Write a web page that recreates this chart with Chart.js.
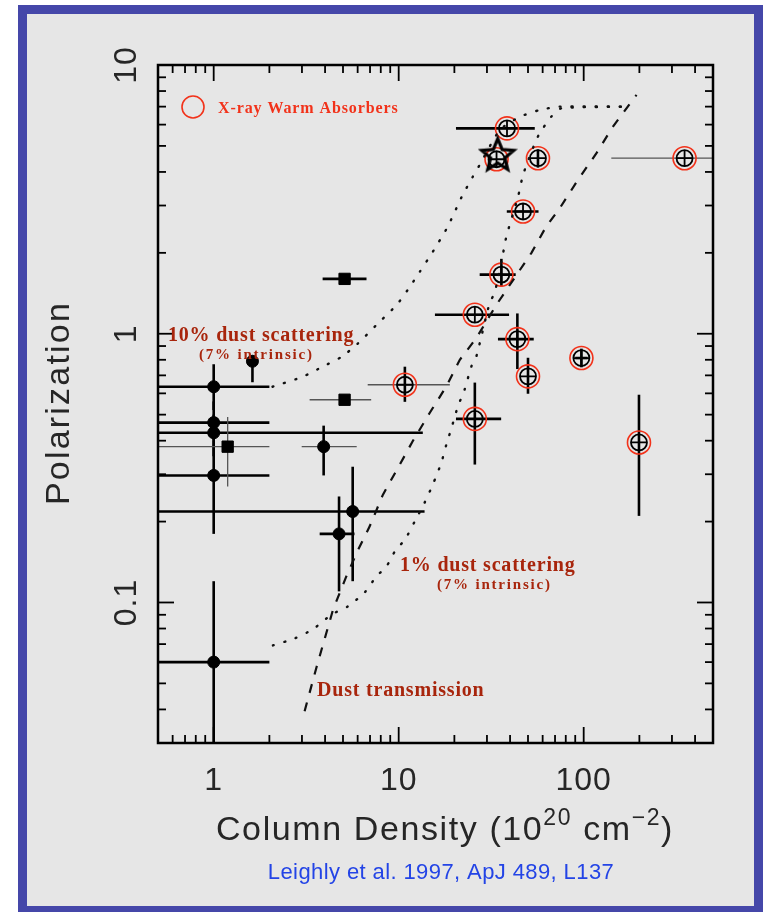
<!DOCTYPE html>
<html>
<head>
<meta charset="utf-8">
<script src="https://cdn.jsdelivr.net/npm/chart.js@4.4.0/dist/chart.umd.min.js"></script>
<style>
html, body { margin: 0; padding: 0; background: #fff; }
canvas { display: block; }
</style>
</head>
<body>
<canvas id="polChart" width="774" height="912"></canvas>
<script>
// sources without warm absorbers: column density (1e20 cm^-2), polarization (%)
var obj_nh     = [1, 1, 1, 1, 1, 1.19, 1.62, 5.1, 5.1, 3.93, 4.76, 5.64];
var obj_pol    = [0.635, 0.467, 0.428, 0.297, 0.06, 0.38, 0.79, 1.6, 0.568, 0.38, 0.18, 0.218];
var obj_nh_lo  = [0.4, 0.4, 0.4, 0.4, 0.4, 0.4, null, 3.88, 3.3, 2.99, 3.74, 0.4];
var obj_nh_hi  = [2.0, 2.0, 13.5, 2.0, 2.0, 2.0, null, 6.7, 7.1, 5.93, 5.77, 13.8];
var obj_pol_lo = [0.52, 0.40, 0.35, 0.18, 0.02, 0.27, 0.66, null, null, 0.297, 0.110, 0.12];
var obj_pol_hi = [0.77, 0.56, 0.50, 0.40, 0.12, 0.49, 0.83, null, null, 0.455, 0.248, 0.32];

// X-ray warm absorbers
var wa_nh      = [10.8, 25.8, 25.8, 35.9, 43.8, 50, 97.2, 199, 38.5, 33.8, 56.6, 351, 47];
var wa_pol     = [0.646, 0.482, 1.177, 1.66, 0.955, 0.694, 0.812, 0.394, 5.81, 4.46, 4.5, 4.5, 2.85];
var wa_nh_lo   = [6.8, 20.4, 15.7, 27.4, 34.4, null, 90, null, 20.4, null, null, 141, 38.4];
var wa_nh_hi   = [18.9, 35.8, 39.5, 42.9, 53.7, null, 105, null, 54.4, null, null, 600, 57];
var wa_pol_lo  = [0.558, 0.326, null, 1.5, 0.739, 0.598, 0.75, 0.21, null, null, 4.15, null, null];
var wa_pol_hi  = [0.754, 0.658, null, 1.9, 1.19, 0.814, 0.88, 0.593, null, null, 4.85, null, null];

var star_nh  = [34.3];
var star_pol = [4.64];

// model curves
var dust10_nh  = [2.08, 3.03, 3.88, 4.92, 6.0, 7.89, 9.75, 11.2, 13.0, 15.3, 18.4, 21.9, 25.1, 27.4, 35.2, 45.1, 57.8, 74.2, 171];
var dust10_pol = [0.635, 0.692, 0.754, 0.821, 0.918, 1.108, 1.28, 1.458, 1.70, 2.02, 2.50, 3.23, 3.83, 4.25, 5.73, 6.41, 6.80, 7.0, 7.0];
var dust1_nh   = [2.09, 2.74, 3.43, 4.34, 5.30, 6.55, 7.57, 8.58, 9.64, 10.8, 12.2, 13.8, 15.3, 17.0, 18.1, 19.3, 20.9, 22.7, 24.7, 26.3, 31.0, 33.0, 36.0, 38.2, 44.2, 47.0, 54.4, 57.8, 66.9, 75.7, 171];
var dust1_pol  = [0.0692, 0.0735, 0.0794, 0.0902, 0.0966, 0.109, 0.125, 0.136, 0.157, 0.171, 0.2, 0.235, 0.275, 0.331, 0.387, 0.446, 0.537, 0.619, 0.755, 0.824, 1.30, 1.42, 1.86, 2.30, 3.24, 3.90, 5.11, 5.57, 6.43, 6.90, 7.0];
var trans_nh   = [3.10, 3.59, 4.42, 5.21, 6.03, 6.97, 8.22, 9.91, 11.9, 14.7, 18.1, 21.4, 26.3, 33.7, 52.2, 62.8, 74.2, 93.2, 117, 144, 193];
var trans_pol  = [0.0394, 0.0572, 0.0942, 0.125, 0.157, 0.192, 0.252, 0.317, 0.398, 0.507, 0.637, 0.80, 0.964, 1.28, 2.0, 2.51, 2.93, 3.74, 4.69, 5.90, 7.74];

var x_tick_vals = [1, 10, 100];
var x_tick_text = ['1', '10', '100'];
var y_tick_vals = [0.1, 1, 10];
var y_tick_text = ['0.1', '1', '10'];

// drawing style bits
var square_idx = [5, 7, 8];
var thin_x = [5, 8, 9];
var thin_y = [5];
var wa_thin_x = [0, 11];
var dark_red = '#a8250c';
var red = '#f2321a';
var ink = '#262626';

function pts(xs, ys) {
    var out = [];
    for (var i = 0; i < xs.length; i++) out.push({x: xs[i], y: ys[i]});
    return out;
}

// open star used for the one special source
var star_img = document.createElement('canvas');
star_img.width = 40;
star_img.height = 40;
(function () {
    var s = star_img.getContext('2d');
    s.beginPath();
    for (var k = 0; k < 10; k++) {
        var r = (k % 2 == 0) ? 17 : 7.5;
        var a = -Math.PI / 2 + k * Math.PI / 5;
        s.lineTo(20 + r * Math.cos(a), 21 + r * Math.sin(a));
    }
    s.closePath();
    s.lineWidth = 3.2;
    s.strokeStyle = '#000';
    s.stroke();
})();

var page_bg = {
    id: 'page_bg',
    beforeDraw: function (chart) {
        var c = chart.ctx;
        c.save();
        c.fillStyle = '#ffffff';
        c.fillRect(0, 0, chart.width, chart.height);
        c.fillStyle = '#4547a9';
        c.fillRect(18, 5, 745, 912);
        c.fillStyle = '#e6e6e6';
        c.fillRect(27, 14, 727, 892);
        c.restore();
    }
};

function bar(c, x1, y1, x2, y2) {
    c.beginPath();
    c.moveTo(x1, y1);
    c.lineTo(x2, y2);
    c.stroke();
}

var error_bars = {
    id: 'error_bars',
    beforeDatasetsDraw: function (chart) {
        var c = chart.ctx, xs = chart.scales.x, ys = chart.scales.y, a = chart.chartArea;
        c.save();
        c.beginPath();
        c.rect(a.left, a.top, a.right - a.left, a.bottom - a.top);
        c.clip();
        function draw_set(nx, py, xlo, xhi, ylo, yhi, tx, ty) {
            for (var i = 0; i < nx.length; i++) {
                var px = xs.getPixelForValue(nx[i]), pp = ys.getPixelForValue(py[i]);
                if (xlo[i] != null) {
                    var thin = tx.indexOf(i) >= 0;
                    c.lineWidth = thin ? 1.3 : 2.6;
                    c.strokeStyle = thin ? '#555' : '#000';
                    bar(c, xs.getPixelForValue(xlo[i]), pp, xs.getPixelForValue(xhi[i]), pp);
                }
                if (ylo[i] != null) {
                    var thin2 = ty.indexOf(i) >= 0;
                    c.lineWidth = thin2 ? 1.3 : 2.6;
                    c.strokeStyle = thin2 ? '#555' : '#000';
                    bar(c, px, ys.getPixelForValue(ylo[i]), px, ys.getPixelForValue(yhi[i]));
                }
            }
        }
        draw_set(obj_nh, obj_pol, obj_nh_lo, obj_nh_hi, obj_pol_lo, obj_pol_hi, thin_x, thin_y);
        draw_set(wa_nh, wa_pol, wa_nh_lo, wa_nh_hi, wa_pol_lo, wa_pol_hi, wa_thin_x, []);
        c.restore();
    }
};

var frame_text = {
    id: 'frame_text',
    afterDraw: function (chart) {
        var c = chart.ctx, xs = chart.scales.x, ys = chart.scales.y, a = chart.chartArea;
        c.save();
        c.strokeStyle = '#000';
        c.lineWidth = 2.5;
        c.strokeRect(a.left, a.top, a.right - a.left, a.bottom - a.top);

        // ticks on all four sides
        c.lineWidth = 1.8;
        var d, m, v, p, len;
        for (d = 0.1; d < 1000; d *= 10) {
            for (m = 1; m < 10; m++) {
                v = d * m;
                if (v <= 0.5 || v >= 500) continue;
                p = xs.getPixelForValue(v);
                len = (m == 1) ? 16 : 8;
                bar(c, p, a.bottom, p, a.bottom - len);
                bar(c, p, a.top, p, a.top + len);
            }
        }
        for (d = 0.01; d < 10; d *= 10) {
            for (m = 1; m < 10; m++) {
                v = d * m;
                if (v <= 0.03 || v >= 10) continue;
                p = ys.getPixelForValue(v);
                len = (m == 1) ? 16 : 8;
                bar(c, a.left, p, a.left + len, p);
                bar(c, a.right, p, a.right - len, p);
            }
        }

        // tick labels
        c.fillStyle = ink;
        c.font = '32px "Liberation Sans"';
        c.letterSpacing = '1px';
        c.textAlign = 'center';
        c.textBaseline = 'alphabetic';
        for (var i = 0; i < x_tick_vals.length; i++) {
            c.fillText(x_tick_text[i], xs.getPixelForValue(x_tick_vals[i]), 790);
        }
        for (i = 0; i < y_tick_vals.length; i++) {
            c.save();
            c.translate(136, ys.getPixelForValue(y_tick_vals[i]));
            c.rotate(-Math.PI / 2);
            c.fillText(y_tick_text[i], 0, 0);
            c.restore();
        }

        // axis titles
        c.save();
        c.translate(69, 403);
        c.rotate(-Math.PI / 2);
        c.font = '34px "Liberation Sans"';
        c.letterSpacing = '2.2px';
        c.fillText('Polarization', 0, 0);
        c.restore();

        var parts = [['Column Density (10', 34, 0], ['20', 23, -15], [' cm', 34, 0], ['\u22122', 23, -15], [')', 34, 0]];
        var total = 0, k;
        c.textAlign = 'left';
        c.letterSpacing = '1.6px';
        for (k = 0; k < parts.length; k++) {
            c.font = parts[k][1] + 'px "Liberation Sans"';
            total += c.measureText(parts[k][0]).width;
        }
        var tx = 445 - total / 2;
        for (k = 0; k < parts.length; k++) {
            c.font = parts[k][1] + 'px "Liberation Sans"';
            c.fillText(parts[k][0], tx, 840 + parts[k][2]);
            tx += c.measureText(parts[k][0]).width;
        }

        // model annotations
        c.fillStyle = dark_red;
        c.textAlign = 'left';
        c.font = 'bold 20px "Liberation Serif"';
        c.letterSpacing = '0.8px';
        c.fillText('10% dust scattering', 168, 341);
        c.fillText('1% dust scattering', 400, 571);
        c.fillText('Dust transmission', 317, 696);
        c.font = 'bold 15px "Liberation Serif"';
        c.letterSpacing = '1.8px';
        c.fillText('(7% intrinsic)', 199, 359);
        c.fillText('(7% intrinsic)', 437, 589);

        // legend
        c.strokeStyle = red;
        c.lineWidth = 1.6;
        c.beginPath();
        c.arc(193, 107, 11, 0, 2 * Math.PI);
        c.stroke();
        c.fillStyle = red;
        c.font = 'bold 16px "Liberation Serif"';
        c.letterSpacing = '0.9px';
        c.fillText('X-ray Warm Absorbers', 218, 113);

        // reference
        c.fillStyle = '#2344e6';
        c.font = '22px "Liberation Sans"';
        c.letterSpacing = '0.4px';
        c.textAlign = 'center';
        c.fillText('Leighly et al. 1997, ApJ 489, L137', 441, 879);
        c.restore();
    }
};

var ctx = document.getElementById('polChart').getContext('2d');
var polChart = new Chart(ctx, {
    type: 'scatter',
    data: {
        datasets: [{
            data: pts(dust10_nh, dust10_pol),
            showLine: true, pointRadius: 0, borderColor: '#111', borderWidth: 2.4,
            borderDash: [1, 11], borderCapStyle: 'round', tension: 0.2
        }, {
            data: pts(dust1_nh, dust1_pol),
            showLine: true, pointRadius: 0, borderColor: '#111', borderWidth: 2.4,
            borderDash: [1, 11], borderCapStyle: 'round', tension: 0.2
        }, {
            data: pts(trans_nh, trans_pol),
            showLine: true, pointRadius: 0, borderColor: '#111', borderWidth: 2.2,
            borderDash: [9, 10], tension: 0
        }, {
            data: pts(obj_nh, obj_pol),
            pointStyle: function (p) { return square_idx.indexOf(p.dataIndex) >= 0 ? 'rect' : 'circle'; },
            pointRadius: function (p) { return square_idx.indexOf(p.dataIndex) >= 0 ? 8 : 6; },
            backgroundColor: '#000', borderColor: '#000', borderWidth: 1
        }, {
            data: pts(star_nh, star_pol),
            pointStyle: star_img, pointRadius: 20
        }, {
            data: pts(wa_nh, wa_pol),
            pointStyle: 'cross', pointRadius: 8, borderColor: '#000', borderWidth: 1.8
        }, {
            data: pts(wa_nh, wa_pol),
            pointStyle: 'circle', pointRadius: 8, borderColor: '#000', borderWidth: 1.8,
            backgroundColor: 'rgba(0,0,0,0)'
        }, {
            data: pts(wa_nh, wa_pol),
            pointStyle: 'circle', pointRadius: 11.5, borderColor: red, borderWidth: 1.6,
            backgroundColor: 'rgba(0,0,0,0)'
        }]
    },
    options: {
        responsive: false,
        animation: false,
        layout: { padding: { left: 158, top: 65, right: 61, bottom: 169 } },
        plugins: {
            legend: { display: false },
            tooltip: { enabled: false }
        },
        scales: {
            x: { type: 'logarithmic', min: 0.5, max: 500, display: false },
            y: { type: 'logarithmic', min: 0.03, max: 10, display: false }
        }
    },
    plugins: [page_bg, error_bars, frame_text]
});
</script>
</body>
</html>
